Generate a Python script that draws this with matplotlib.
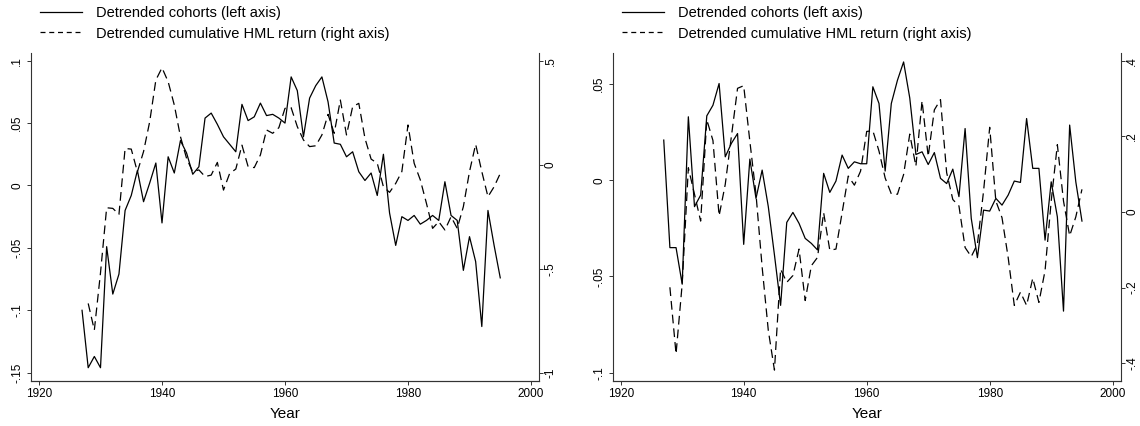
import matplotlib
matplotlib.use("Agg")
import matplotlib.pyplot as plt
import numpy as np

plt.rcParams["font.family"] = ["Liberation Sans", "DejaVu Sans"]

years = np.arange(1927, 1996)
hml_years = np.arange(1928, 1996)

# left panel
cohorts_a = [
    -0.100, -0.146, -0.137, -0.146, -0.049, -0.087, -0.071, -0.020, -0.008, 0.012,
    -0.013, 0.002, 0.018, -0.030, 0.023, 0.010, 0.036, 0.026, 0.009, 0.015,
    0.054, 0.058, 0.049, 0.039, 0.033, 0.027, 0.065, 0.052, 0.055, 0.066,
    0.056, 0.057, 0.054, 0.050, 0.087, 0.076, 0.039, 0.070, 0.080, 0.087,
    0.067, 0.034, 0.033, 0.023, 0.027, 0.011, 0.004, 0.010, -0.008, 0.025,
    -0.022, -0.048, -0.025, -0.028, -0.024, -0.031, -0.028, -0.024, -0.028, 0.003,
    -0.024, -0.028, -0.068, -0.041, -0.061, -0.113, -0.020, -0.048, -0.074,
]
hml_a = [
    -0.667, -0.795, -0.52, -0.207, -0.210, -0.239, 0.078, 0.075, -0.034, 0.063,
    0.207, 0.407, 0.466, 0.399, 0.287, 0.135, 0.030, -0.034, -0.025, -0.057,
    -0.050, 0.011, -0.122, -0.042, -0.021, 0.094, -0.009, -0.014, 0.047, 0.167,
    0.151, 0.178, 0.271, 0.274, 0.183, 0.119, 0.087, 0.091, 0.143, 0.242,
    0.151, 0.311, 0.143, 0.279, 0.295, 0.127, 0.027, 0.007, -0.106, -0.133,
    -0.090, -0.033, 0.191, 0.007, -0.073, -0.186, -0.306, -0.274, -0.314, -0.250,
    -0.306, -0.202, -0.033, 0.098, -0.033, -0.154, -0.106, -0.042,
]

# right panel
cohorts_b = [
    0.0209, -0.035, -0.035, -0.054, 0.033, -0.0137, -0.0077, 0.0335, 0.039, 0.0503,
    0.0122, 0.0192, 0.0243, -0.0333, 0.011, -0.0094, 0.0053, -0.0137, -0.0388, -0.065,
    -0.0219, -0.0167, -0.0224, -0.0302, -0.0328, -0.0362, 0.0036, -0.0063, -0.0004, 0.0131,
    0.0062, 0.0096, 0.0086, 0.0086, 0.0486, 0.0399, 0.0048, 0.0399, 0.052, 0.0615,
    0.0428, 0.0134, 0.0148, 0.0082, 0.0144, 0.001, -0.0017, 0.0058, -0.0085, 0.0269,
    -0.0198, -0.0402, -0.0155, -0.016, -0.0094, -0.0129, -0.0077, -0.0004, -0.0011, 0.0321,
    0.0062, 0.0062, -0.0311, -0.0008, -0.019, -0.068, 0.0287, -0.0008, -0.0212,
]
hml_b = [
    -0.199, -0.375, -0.190, 0.117, 0.047, -0.024, 0.244, 0.189, -0.010, 0.073,
    0.200, 0.327, 0.334, 0.187, 0.047, -0.146, -0.313, -0.418, -0.151, -0.186,
    -0.168, -0.098, -0.234, -0.142, -0.120, -0.002, -0.101, -0.098, -0.002, 0.095,
    0.071, 0.108, 0.213, 0.215, 0.161, 0.090, 0.048, 0.047, 0.099, 0.206,
    0.121, 0.294, 0.147, 0.270, 0.297, 0.104, 0.033, 0.016, -0.094, -0.118,
    -0.085, 0.055, 0.224, 0.029, -0.015, -0.120, -0.247, -0.212, -0.247, -0.175,
    -0.239, -0.155, 0.029, 0.178, 0.029, -0.063, -0.013, 0.060,
]

x_ticks = [1920, 1940, 1960, 1980, 2000]
left_ticks_a = [-0.15, -0.1, -0.05, 0, 0.05, 0.1]
left_labels_a = ["-.15", "-.1", "-.05", "0", ".05", ".1"]
right_ticks_a = [-1, -0.5, 0, 0.5]
right_labels_a = ["-1", "-.5", "0", ".5"]
left_ticks_b = [-0.1, -0.05, 0, 0.05]
left_labels_b = ["-.1", "-.05", "0", ".05"]
right_ticks_b = [-0.4, -0.2, 0, 0.2, 0.4]
right_labels_b = ["-.4", "-.2", "0", ".2", ".4"]

legend_labels = ["Detrended cohorts (left axis)",
                 "Detrended cumulative HML return (right axis)"]

W, H = 1140, 426
AX_COL = "#333333"
DASH = (0, (7, 4))


def style_axis(ax, side, pad):
    for s in ["top", "left", "right", "bottom"]:
        ax.spines[s].set_visible(False)
    ax.spines[side].set_visible(True)
    ax.spines[side].set_color(AX_COL)
    ax.spines[side].set_linewidth(0.8)
    ax.spines["bottom"].set_visible(True)
    ax.spines["bottom"].set_color(AX_COL)
    ax.spines["bottom"].set_linewidth(0.8)
    ax.tick_params(length=3, width=0.7, color=AX_COL, labelsize=8.5, pad=pad)


def panel(x0, cohorts, hml, lticks, llabels, lylim, rticks, rlabels, rylim):
    rect = [x0 / W, 1 - 380.7 / H, 508 / W, 327.4 / H]
    ax = fig.add_axes(rect)
    ax.plot(years, cohorts, color="black", lw=0.9)
    ax.set_xlim(1918.7, 2001.3)
    ax.set_ylim(*lylim)
    ax.set_xticks(x_ticks)
    ax.set_yticks(lticks, llabels, rotation=90, va="center")
    ax.set_xlabel("Year", fontsize=11, labelpad=5)
    style_axis(ax, "left", 2.5)

    ax2 = ax.twinx()
    ax2.plot(hml_years, hml, color="black", lw=0.9, linestyle=DASH)
    ax2.set_ylim(*rylim)
    ax2.set_yticks(rticks, rlabels, rotation=90, va="center")
    style_axis(ax2, "right", 1.0)

    handles = [plt.Line2D([], [], color="black", lw=0.9),
               plt.Line2D([], [], color="black", lw=0.9, linestyle=(0, (4, 3)))]
    fig.legend(handles, legend_labels, loc="upper left",
               bbox_to_anchor=((x0 + 9) / W, 1 - 6 / H),
               frameon=False, fontsize=10.5, handlelength=2.9,
               handletextpad=0.95, labelspacing=0.45, borderpad=0,
               borderaxespad=0)
    return ax, ax2


fig = plt.figure(figsize=(W / 100, H / 100), dpi=100)
panel(31, cohorts_a, hml_a, left_ticks_a, left_labels_a, (-0.1564, 0.1059),
      right_ticks_a, right_labels_a, (-1.0385, 0.5356))
panel(612.7, cohorts_b, hml_b, left_ticks_b, left_labels_b, (-0.10416, 0.066),
      right_ticks_b, right_labels_b, (-0.446, 0.4196))

fig.savefig("out.png", dpi=100)
plt.close(fig)
